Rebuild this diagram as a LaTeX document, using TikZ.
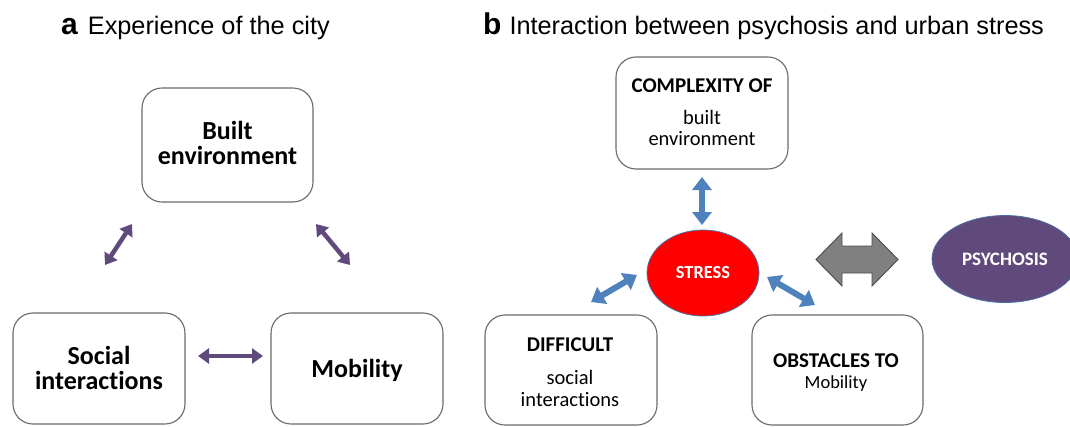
\documentclass[tikz,border=0pt]{standalone}
\usepackage{fontspec}
\setmainfont{Liberation Sans}
\newfontfamily\calfont[Ligatures={NoCommon,NoContextual},
  BoldFeatures={Ligatures={NoCommon,NoContextual}}]{Carlito}
\usetikzlibrary{arrows.meta,shapes.geometric,calc}
\definecolor{boxline}{HTML}{6A6A6A}
\definecolor{purplearrow}{HTML}{604A7B}
\definecolor{bluearrow}{HTML}{4F81BD}
\definecolor{ellline}{HTML}{4A6FA5}
\definecolor{greyfill}{HTML}{808080}
\definecolor{greyline}{HTML}{4D4D4D}
\tikzset{
  roundbox/.style={draw=boxline, line width=1.1pt, rounded corners=20pt, fill=white,
    minimum width=172pt, minimum height=111pt, inner sep=0pt},
  atext/.style={anchor=base, inner sep=0pt, font=\calfont\bfseries\fontsize{26}{28}\selectfont},
  bhead/.style={anchor=base, inner sep=0pt, font=\calfont\bfseries\fontsize{21}{23}\selectfont},
  btext/.style={anchor=base, inner sep=0pt, font=\calfont\fontsize{20.5}{22}\selectfont},
  heading/.style={anchor=base west, inner sep=0pt, font=\fontsize{25.3}{28}\selectfont},
  parrow/.style={draw=purplearrow, line width=4.5pt,
    {Triangle[length=11pt,width=15pt]}-{Triangle[length=11pt,width=15pt]}},
  barrow/.style={draw=bluearrow, line width=6pt,
    {Triangle[length=13pt,width=19pt]}-{Triangle[length=13pt,width=19pt]}},
  ellnode/.style={ellipse, draw=ellline, line width=0.8pt, inner sep=0pt,
    text=white, font=\calfont\bfseries},
  blockarrow/.style={draw=greyline, line width=0.9pt, fill=greyfill},
}
\begin{document}
\begin{tikzpicture}[x=1pt,y=-1pt]
\useasboundingbox (0,0) rectangle (1070,426);
\clip (0,0) rectangle (1070,426);

% headings
\node[heading] (ha) at (61,34) {{\bfseries\fontsize{30}{30}\selectfont a}\hspace{10pt}Experience of the city};
\node[heading] (hb) at (483,34) {{\bfseries\fontsize{30}{30}\selectfont b}\hspace{8pt}Interaction between psychosis and urban stress};

% panel a
\node[roundbox, minimum width=171pt, minimum height=114pt] (built) at (227.5,145) {};
\node[roundbox] (social) at (99,368.5) {};
\node[roundbox] (mobility) at (357,368.5) {};
\node[atext] (builtT1) at (227.5,139) {Built};
\node[atext] (builtT2) at (227.5,164) {environment};
\node[atext] (socialT1) at (99,364) {Social};
\node[atext] (socialT2) at (99,389) {interactions};
\node[atext] (mobilityT) at (357,377) {Mobility};

\coordinate (pa1) at (132,224);
\coordinate (pa2) at (105,265);
\coordinate (pb1) at (316,224);
\coordinate (pb2) at (350,265);
\coordinate (pc1) at (198,356);
\coordinate (pc2) at (263,356);
\draw[parrow] (pa1) -- (pa2);
\draw[parrow] (pb1) -- (pb2);
\draw[parrow] (pc1) -- (pc2);

% panel b
\node[roundbox, minimum height=112pt] (complex) at (702,113) {};
\node[roundbox, minimum height=110pt] (diff) at (571,370) {};
\node[roundbox, minimum width=171pt, minimum height=110pt] (obst) at (837.5,370) {};

\node[bhead] (complexT1) at (702,92) {COMPLEXITY OF};
\node[btext] (complexT2) at (702,124) {built};
\node[btext] (complexT3) at (702,145) {environment};
\node[bhead] (diffT1) at (570,351) {DIFFICULT};
\node[btext] (diffT2) at (570,384) {social};
\node[btext] (diffT3) at (570,406) {interactions};
\node[bhead] (obstT1) at (836,367) {OBSTACLES TO};
\node[btext, font=\calfont\fontsize{18.5}{20}\selectfont] (obstT2) at (836,388) {Mobility};

\node[ellnode, fill=red, minimum width=112pt, minimum height=86pt,
      font=\calfont\bfseries\fontsize{18.4}{20}\selectfont] (stress) at (703,273) {STRESS};
\node[ellnode, fill=purplearrow, minimum width=146pt, minimum height=87pt,
      font=\calfont\bfseries\fontsize{19}{20}\selectfont] (psych) at (1005,259) {PSYCHOSIS};

% grey double block arrow
\coordinate (big) at (857,259.5);
\draw[blockarrow] ($(big)+(-41,0)$) -- ($(big)+(-15,-26.5)$) -- ($(big)+(-15,-13.5)$)
  -- ($(big)+(15,-13.5)$) -- ($(big)+(15,-26.5)$) -- ($(big)+(41,0)$)
  -- ($(big)+(15,26.5)$) -- ($(big)+(15,13.5)$) -- ($(big)+(-15,13.5)$)
  -- ($(big)+(-15,26.5)$) -- cycle;

\coordinate (ba1) at (702,177);
\coordinate (ba2) at (702,225);
\coordinate (bb1) at (637,275);
\coordinate (bb2) at (591,302);
\coordinate (bc1) at (767,277);
\coordinate (bc2) at (815,305);
\draw[barrow] (ba1) -- (ba2);
\draw[barrow] (bb1) -- (bb2);
\draw[barrow] (bc1) -- (bc2);
\end{tikzpicture}
\end{document}
